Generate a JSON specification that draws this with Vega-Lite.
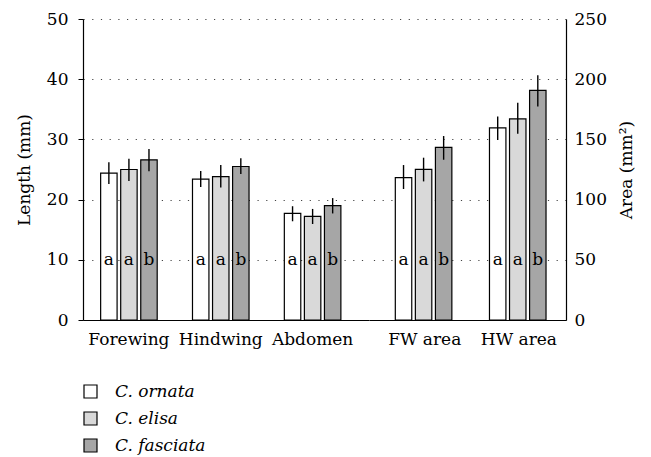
{
  "$schema": "https://vega.github.io/schema/vega-lite/v6.json",
  "background": "white",
  "padding": {"left": 15, "top": 10, "right": 5, "bottom": 2},
  "config": {
    "font": "DejaVu Serif",
    "view": {"stroke": null},
    "concat": {"spacing": 0},
    "text": {"font": "DejaVu Serif"},
    "axis": {
      "labelFont": "DejaVu Serif", "labelFontSize": 17, "labelColor": "black",
      "titleFont": "DejaVu Serif", "titleFontSize": 17, "titleFontWeight": "normal", "titleColor": "black",
      "domainColor": "black", "domainWidth": 1.2, "tickColor": "black", "tickSize": 5,
      "gridColor": "#444", "gridDash": [1.2, 7.5], "gridWidth": 1
    },
    "legend": {
      "labelFont": "DejaVu Serif", "labelFontSize": 17, "labelFontStyle": "italic", "labelColor": "black"
    }
  },
  "datasets": {
    "length": [
      {"trait": "Forewing", "species": "C. ornata", "value": 24.4, "lo": 22.6, "hi": 26.2, "letter": "a"},
      {"trait": "Forewing", "species": "C. elisa", "value": 25.0, "lo": 23.1, "hi": 26.8, "letter": "a"},
      {"trait": "Forewing", "species": "C. fasciata", "value": 26.6, "lo": 24.7, "hi": 28.4, "letter": "b"},
      {"trait": "Hindwing", "species": "C. ornata", "value": 23.4, "lo": 22.1, "hi": 24.75, "letter": "a"},
      {"trait": "Hindwing", "species": "C. elisa", "value": 23.8, "lo": 22.0, "hi": 25.75, "letter": "a"},
      {"trait": "Hindwing", "species": "C. fasciata", "value": 25.5, "lo": 24.25, "hi": 26.85, "letter": "b"},
      {"trait": "Abdomen", "species": "C. ornata", "value": 17.7, "lo": 16.4, "hi": 18.9, "letter": "a"},
      {"trait": "Abdomen", "species": "C. elisa", "value": 17.2, "lo": 15.95, "hi": 18.45, "letter": "a"},
      {"trait": "Abdomen", "species": "C. fasciata", "value": 19.0, "lo": 17.7, "hi": 20.25, "letter": "b"}
    ],
    "area": [
      {"trait": "FW area", "species": "C. ornata", "value": 118.2, "lo": 108.8, "hi": 128.7, "letter": "a"},
      {"trait": "FW area", "species": "C. elisa", "value": 125.1, "lo": 115.1, "hi": 134.8, "letter": "a"},
      {"trait": "FW area", "species": "C. fasciata", "value": 143.4, "lo": 133.1, "hi": 152.8, "letter": "b"},
      {"trait": "HW area", "species": "C. ornata", "value": 159.5, "lo": 149.5, "hi": 169.1, "letter": "a"},
      {"trait": "HW area", "species": "C. elisa", "value": 167.0, "lo": 154.7, "hi": 180.5, "letter": "a"},
      {"trait": "HW area", "species": "C. fasciata", "value": 190.7, "lo": 177.4, "hi": 203.2, "letter": "b"}
    ]
  },
  "hconcat": [
    {
      "width": 286, "height": 301,
      "data": {"name": "length"},
      "encoding": {
        "x": {"field": "trait", "type": "nominal", "sort": ["Forewing", "Hindwing", "Abdomen"],
              "scale": {"paddingInner": 0, "paddingOuter": 0.057, "align": 0},
              "axis": {"title": null, "labelAngle": 0, "ticks": false, "labelPadding": 11}},
        "xOffset": {"field": "species", "type": "nominal", "sort": ["C. ornata", "C. elisa", "C. fasciata"],
                    "scale": {"paddingInner": 0.18, "paddingOuter": 0.88}}
      },
      "layer": [
        {
          "mark": {"type": "bar", "stroke": "black", "strokeWidth": 1.2},
          "encoding": {
            "y": {"field": "value", "type": "quantitative",
                  "scale": {"domain": [0, 50], "nice": false},
                  "axis": {"title": "Length (mm)", "values": [0, 10, 20, 30, 40, 50], "labelPadding": 10, "titlePadding": 13}},
            "color": {"field": "species", "type": "nominal", "sort": ["C. ornata", "C. elisa", "C. fasciata"],
                      "scale": {"domain": ["C. ornata", "C. elisa", "C. fasciata"], "range": ["#ffffff", "#d9d9d9", "#a6a6a6"]},
                      "legend": {"title": null, "orient": "none", "legendX": -1, "legendY": 364, "symbolType": "square",
                                 "symbolSize": 169, "symbolStrokeColor": "black", "symbolStrokeWidth": 1.2, "rowPadding": 8, "labelOffset": 16}}
          }
        },
        {
          "mark": {"type": "rule", "color": "black", "strokeWidth": 1.4},
          "encoding": {"y": {"field": "lo", "type": "quantitative"}, "y2": {"field": "hi"}}
        },
        {
          "mark": {"type": "text", "fontSize": 17, "baseline": "middle", "color": "black"},
          "encoding": {"y": {"datum": 10}, "text": {"field": "letter"}}
        }
      ]
    },
    {
      "width": 197, "height": 301,
      "data": {"name": "area"},
      "encoding": {
        "x": {"field": "trait", "type": "nominal", "sort": ["FW area", "HW area"],
              "scale": {"paddingInner": 0, "paddingOuter": 0.046, "align": 1},
              "axis": {"title": null, "labelAngle": 0, "ticks": false, "labelPadding": 11}},
        "xOffset": {"field": "species", "type": "nominal", "sort": ["C. ornata", "C. elisa", "C. fasciata"],
                    "scale": {"paddingInner": 0.18, "paddingOuter": 0.88}}
      },
      "layer": [
        {
          "mark": {"type": "bar", "stroke": "black", "strokeWidth": 1.2},
          "encoding": {
            "y": {"field": "value", "type": "quantitative",
                  "scale": {"domain": [0, 250], "nice": false},
                  "axis": {"title": "Area (mm²)", "orient": "right", "ticks": false, "labelPadding": 8, "titleAngle": 270, "titleBaseline": "top", "titlePadding": 12,
                           "values": [0, 50, 100, 150, 200, 250]}},
            "color": {"field": "species", "type": "nominal", "sort": ["C. ornata", "C. elisa", "C. fasciata"]}
          }
        },
        {
          "mark": {"type": "rule", "color": "black", "strokeWidth": 1.4},
          "encoding": {"y": {"field": "lo", "type": "quantitative"}, "y2": {"field": "hi"}}
        },
        {
          "mark": {"type": "text", "fontSize": 17, "baseline": "middle", "color": "black"},
          "encoding": {"y": {"datum": 50}, "text": {"field": "letter"}}
        }
      ]
    }
  ]
}
